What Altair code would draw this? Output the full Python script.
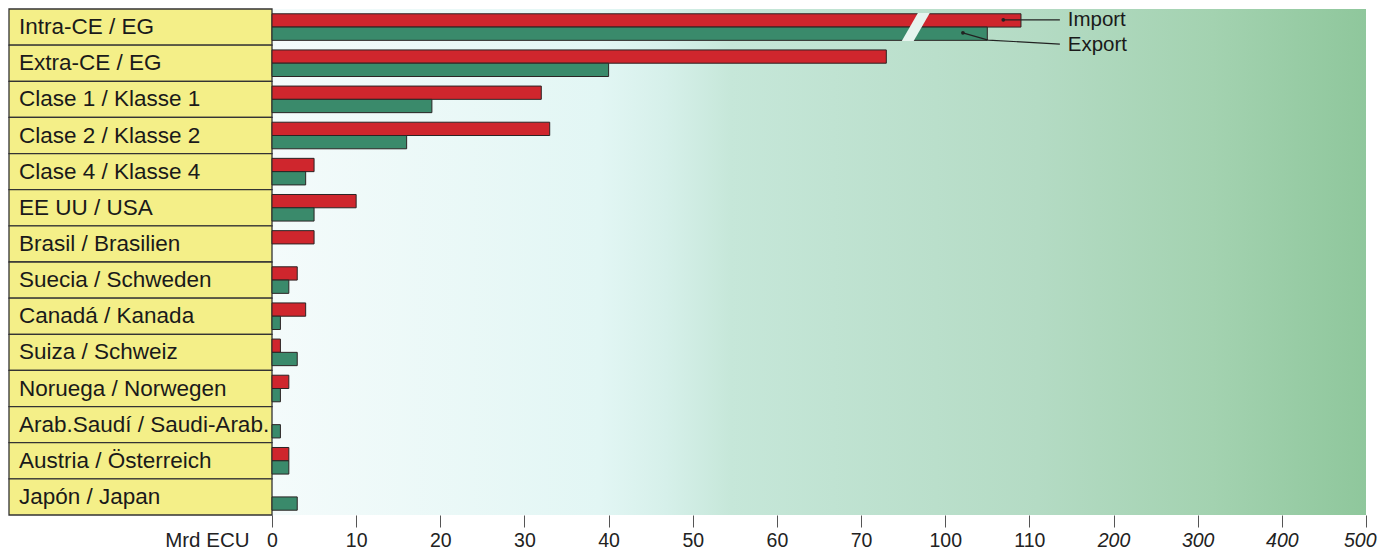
import altair as alt
import pandas as pd

# ---------------- data ----------------
categories = [
    "Intra-CE / EG", "Extra-CE / EG", "Clase 1 / Klasse 1", "Clase 2 / Klasse 2",
    "Clase 4 / Klasse 4", "EE UU / USA", "Brasil / Brasilien", "Suecia / Schweden",
    "Canadá / Kanada", "Suiza / Schweiz", "Noruega / Norwegen",
    "Arab.Saudí / Saudi-Arab.", "Austria / Österreich", "Japón / Japan",
]
imports = [109, 73, 32, 33, 5, 10, 5, 3, 4, 1, 2, 0, 2, 0]
exports = [105, 40, 19, 16, 4, 5, 0, 2, 1, 3, 1, 1, 2, 3]
series = ["Import", "Export"]
series_colors = ["#cf262d", "#3a8a6b"]
tick_values = [0, 10, 20, 30, 40, 50, 60, 70, 100, 110, 200, 300, 400, 500]
# broken (piecewise) value axis
scale_breaks = [0, 77, 100, 110, 200, 300, 400, 500]

# annotation (legend leaders) in value units / row units
break_value = [76.5]
import_leader_x = [106.9, 142.6]
import_leader_y = [0.30, 0.30]
export_leader_x = [102.1, 105.1, 142.6]
export_leader_y = [0.66, 0.86, 0.97]
legend_label_x = [151.0, 151.0]
legend_label_y = [0.30, 0.99]

# ---------------- layout ----------------
W = 1094
H = 506
u = W / 13.0
scale_range = [0, 77 * u / 10, 8 * u, 9 * u, 10 * u, 11 * u, 12 * u, 13 * u]

rows = []
for c, i, e in zip(categories, imports, exports):
    if i > 0:
        rows.append({"cat": c, "series": "Import", "x": i})
    if e > 0:
        rows.append({"cat": c, "series": "Export", "x": e})
bars_df = pd.DataFrame(rows)
cat_df = pd.DataFrame({"cat": categories})

xaxis = alt.Axis(
    values=tick_values, domain=False, ticks=True, tickSize=12, tickColor="#555555",
    tickWidth=1, grid=False, labelFontSize=19.5, labelFont="Liberation Sans",
    labelColor="#222222", labelPadding=4, labelFlush=False, labelOverlap=False,
    labelFontStyle={"condition": {"test": "datum.value >= 200", "value": "italic"}, "value": "normal"},
    labelAlign={"condition": {"test": "datum.value == 500", "value": "right"}, "value": "center"},
    labelOffset={"condition": {"test": "datum.value == 500", "value": 10}, "value": 0},
    title="Mrd ECU", titleFont="Liberation Sans", titleFontSize=20.5, titleFontWeight="normal",
    titleColor="#222222", titleX=-23, titleY=15, titleAlign="right", titleBaseline="top",
    titleAngle=0,
)


def X():
    return alt.X("x:Q", scale=alt.Scale(domain=scale_breaks, range=scale_range), axis=xaxis)


def Ycat():
    return alt.Y("cat:N", sort=categories,
                 scale=alt.Scale(domain=categories, paddingInner=0, paddingOuter=0), axis=None)


bg = alt.Chart(cat_df).mark_rect(
    fill=alt.Gradient(
        gradient="linear", x1=0, x2=1, y1=0, y2=0,
        stops=[
            alt.GradientStop(offset=0.0, color="#f4fbfb"),
            alt.GradientStop(offset=0.30, color="#e2f6f4"),
            alt.GradientStop(offset=0.36, color="#d6f0ea"),
            alt.GradientStop(offset=0.42, color="#c6e7d9"),
            alt.GradientStop(offset=0.70, color="#b4dbc4"),
            alt.GradientStop(offset=0.86, color="#a3d2b0"),
            alt.GradientStop(offset=1.0, color="#8fc79c"),
        ],
    )
).encode(x=alt.value(0), x2=alt.value(W), y=alt.value(0), y2=alt.value(H))

panel = alt.Chart(cat_df).mark_rect(
    fill="#f4ef88", stroke="#333333", strokeWidth=1.3
).encode(y=Ycat(), x=alt.value(-263), x2=alt.value(0))

labels = alt.Chart(cat_df).mark_text(
    align="left", baseline="middle", font="Liberation Sans", fontSize=22.5, color="#1a1a1a"
).encode(y=Ycat(), x=alt.value(-253), text="cat:N")

bars = alt.Chart(bars_df).mark_bar(stroke="#2b2424", strokeWidth=1).encode(
    y=Ycat(),
    yOffset=alt.YOffset("series:N", sort=series,
                        scale=alt.Scale(domain=series, paddingOuter=0.36, paddingInner=0)),
    x=X(),
    color=alt.Color("series:N", scale=alt.Scale(domain=series, range=series_colors), legend=None),
)

brk_df = pd.DataFrame({"cat": [categories[0]], "x": break_value})
brk = alt.Chart(brk_df).mark_point(
    shape="M 0.15 -1 L 1.0 -1 L -0.15 1 L -1.0 1 Z",
    size=784, filled=True, fill="#e6f4ee", opacity=1, strokeWidth=0,
).encode(y=Ycat(), x=X())

band_layers = alt.layer(bg, panel, labels, bars, brk)

lead_df = pd.DataFrame(
    [{"g": "Import", "x": a, "r": b} for a, b in zip(import_leader_x, import_leader_y)]
    + [{"g": "Export", "x": a, "r": b} for a, b in zip(export_leader_x, export_leader_y)]
)
Yrow = alt.Y("r:Q", scale=alt.Scale(domain=[0, len(categories)], reverse=True), axis=None)

leaders = alt.Chart(lead_df).mark_line(color="#222222", strokeWidth=1.2).encode(
    x=X(), y=Yrow, detail="g:N"
)
dots = alt.Chart(lead_df).transform_window(
    rn="row_number()", groupby=["g"]
).transform_filter("datum.rn == 1").mark_point(
    filled=True, size=14, color="#222222", opacity=1
).encode(x=X(), y=Yrow)

lab_df = pd.DataFrame({"t": series, "x": legend_label_x, "r": legend_label_y})
leg_text = alt.Chart(lab_df).mark_text(
    align="left", baseline="middle", font="Liberation Sans", fontSize=20.5, color="#1a1a1a"
).encode(x=X(), y=Yrow, text="t:N")

quant_layers = alt.layer(leaders, dots, leg_text)

chart = alt.layer(band_layers, quant_layers).resolve_scale(y="independent").properties(
    width=W, height=H,
    autosize=alt.AutoSizeParams(type="none"),
    padding={"left": 264, "top": 1, "right": 12, "bottom": 38},
    background="white",
).configure_view(stroke=None)

chart.save("out.html", embed_options={"renderer": "svg", "actions": False})
